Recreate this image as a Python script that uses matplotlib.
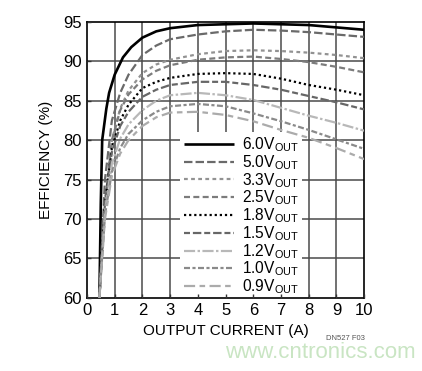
import matplotlib
matplotlib.use("Agg")
import matplotlib.pyplot as plt
from matplotlib import font_manager

names = {f.name for f in font_manager.fontManager.ttflist}
FONT = 'Liberation Sans Narrow' if 'Liberation Sans Narrow' in names else 'Liberation Sans'
plt.rcParams['font.family'] = [FONT, 'DejaVu Sans']
plt.rcParams['mathtext.fontset'] = 'custom'
plt.rcParams['mathtext.rm'] = FONT

labels = ["6.0V", "5.0V", "3.3V", "2.5V", "1.8V", "1.5V", "1.2V", "1.0V", "0.9V"]

x_6v0 = [0.45, 0.5, 0.55, 0.7, 0.8, 1.0, 1.3, 1.6, 2.0, 2.5, 3, 4, 5, 6, 7, 8, 9, 10]
y_6v0 = [60, 72, 80, 84, 86, 88.3, 90.5, 91.8, 93.0, 93.8, 94.2, 94.6, 94.7, 94.8, 94.7, 94.6, 94.3, 94.0]

x_std = [0.45, 0.65, 0.9, 1.2, 1.5, 2.0, 2.5, 3, 4, 5, 6, 7, 8, 9, 10]
y_5v0 = [60, 75, 82.5, 86.0, 88.3, 90.8, 92.0, 92.8, 93.4, 93.8, 94.0, 93.9, 93.7, 93.4, 93.1]
y_3v3 = [60, 72, 80, 84, 86.3, 88.5, 89.6, 90.2, 90.9, 91.3, 91.4, 91.3, 91.1, 90.8, 90.4]
y_2v5 = [60, 72, 80, 83.8, 85.8, 87.7, 88.8, 89.5, 90.2, 90.5, 90.6, 90.3, 89.9, 89.3, 88.6]
y_1v8 = [60, 72, 79, 82.5, 84.5, 86.6, 87.4, 87.9, 88.4, 88.5, 88.4, 87.8, 87.0, 86.4, 85.7]
y_1v5 = [60, 72, 78.5, 81.8, 83.6, 85.5, 86.4, 87.0, 87.4, 87.4, 87.0, 86.4, 85.6, 84.8, 83.9]
y_1v2 = [60, 71, 77, 80.2, 82.0, 83.8, 85.0, 85.7, 86.0, 85.7, 85.1, 84.1, 83.1, 82.2, 81.2]
y_1v0 = [60, 70.5, 76, 79.0, 80.8, 82.5, 83.6, 84.3, 84.6, 84.3, 83.4, 82.4, 81.3, 80.1, 78.9]
y_0v9 = [60, 70, 75.5, 78.3, 80.0, 81.8, 82.9, 83.5, 83.6, 83.2, 82.4, 81.3, 80.3, 79.0, 77.6]

xticks = list(range(0, 11))
yticks = list(range(60, 96, 5))

fig = plt.figure(figsize=(4.22, 3.71), dpi=100)
ax = fig.add_axes([0.206, 0.197, 0.657, 0.744])

styles = [
    dict(color='black', lw=1.9, ls='-'),
    dict(color='#6a6a6a', lw=1.6, ls=(0, (3.8, 1.4))),
    dict(color='#929292', lw=1.6, ls=(0, (1.7, 1.5))),
    dict(color='#7c7c7c', lw=1.6, ls=(0, (2.7, 1.5))),
    dict(color='black', lw=1.6, ls=(0, (1, 1.3))),
    dict(color='#676767', lw=1.6, ls=(0, (2.7, 1.3, 3.8, 1.3))),
    dict(color='#b8b8b8', lw=1.6, ls=(0, (5, 1.1, 1.1, 1.1))),
    dict(color='#8a8a8a', lw=1.6, ls=(0, (2.7, 1.1, 1.4, 1.1))),
    dict(color='#ababab', lw=1.6, ls=(0, (5, 2, 2.5, 2))),
]
series = [(x_6v0, y_6v0), (x_std, y_5v0), (x_std, y_3v3), (x_std, y_2v5), (x_std, y_1v8),
          (x_std, y_1v5), (x_std, y_1v2), (x_std, y_1v0), (x_std, y_0v9)]

for lab, (xs, ys), st in zip(labels, series, styles):
    ax.plot(xs, ys, label=lab + r"$_{\mathrm{OUT}}$", zorder=3, solid_capstyle='butt',
            dash_capstyle='butt', **st)

ax.set_xlim(0, 10)
ax.set_ylim(60, 95)
ax.set_xticks(xticks)
ax.set_yticks(yticks)
for xv in xticks[1:-1]:
    ax.axvline(xv, color='#4a4a4a', lw=1.1, zorder=1)
for yv in yticks[1:-1]:
    ax.axhline(yv, color='#4a4a4a', lw=1.1, zorder=1)
ax.set_axisbelow(False)
for s in ax.spines.values():
    s.set_color('black')
    s.set_linewidth(1.2)
ax.tick_params(direction='in', length=3, width=1, labelsize=12, pad=4, color='#333333')
ax.set_xlabel("OUTPUT CURRENT (A)", fontsize=11, labelpad=4)
ax.set_ylabel("EFFICIENCY (%)", fontsize=11, labelpad=7)

leg = ax.legend(loc='lower left', bbox_to_anchor=(0.336, -0.008), frameon=True, fancybox=False,
                facecolor='white', edgecolor='none', framealpha=1, fontsize=11.2,
                handlelength=3.2, handletextpad=0.5, labelspacing=-0.06,
                borderpad=0.25, borderaxespad=0.0)
leg.set_zorder(2)

fig.text(0.865, 0.083, "DN527 F03", fontsize=5.5, color='#555555', ha='right')
fig.text(0.76, 0.035, "www.cntronics.com", fontsize=16, color='#c9e5c3', ha='center',
         family=['Liberation Sans', 'DejaVu Sans'])

fig.savefig("out.png", dpi=100)
